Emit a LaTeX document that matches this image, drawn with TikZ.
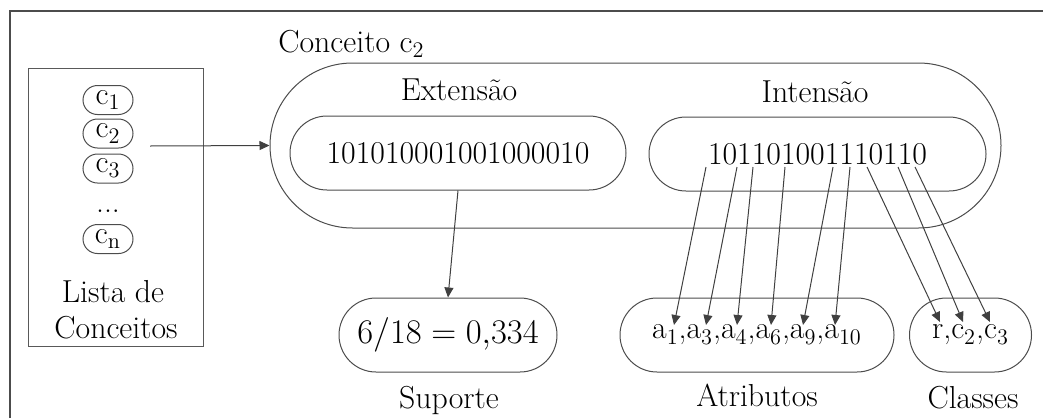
\documentclass[tikz,border=0pt]{standalone}
\usetikzlibrary{shapes.misc,arrows.meta}
\begin{document}
\begin{tikzpicture}[x=0.5pt,y=-0.5pt,
  font=\fontsize{15.9}{19}\selectfont,
  rr/.style={draw=black!70,line width=0.5pt,rounded rectangle,inner sep=0pt},
  cn/.style={rr,minimum width=25pt,minimum height=14.5pt},
  arr/.style={draw=black!75,line width=0.5pt,-{Triangle[length=5pt,width=4.5pt]}},
  lbl/.style={inner sep=0pt,anchor=base}]
\useasboundingbox (0,0) rectangle (1043,418);
% outer frame (cut by the page)
\draw[black!70,line width=0.75pt] (10,418) -- (10,11) -- (1043,11);
% list of concepts
\node[draw=black!65,line width=0.5pt,minimum width=87.5pt,minimum height=139pt,inner sep=0pt] (lista) at (115.5,207) {};
\node[cn] (c1) at (108,100) {c\textsubscript{1}};
\node[cn] (c2) at (108,133.5) {c\textsubscript{2}};
\node[cn] (c3) at (108,168.5) {c\textsubscript{3}};
\node[lbl] (dots) at (108,212) {...};
\node[cn] (cn) at (108,239) {c\textsubscript{n}};
\node[lbl] (lista1) at (113,302) {Lista de};
\node[lbl] (lista2) at (116,338) {Conceitos};
% concept
\node[lbl,anchor=base west] (conclbl) at (278,52) {Conceito c\textsubscript{2}};
\node[rr,minimum width=365.5pt,minimum height=82.5pt] (conc) at (635.5,145.5) {};
\node[lbl] (extlbl) at (459,100) {Extensão};
\node[lbl] (intlbl) at (815,102) {Intensão};
\node[rr,minimum width=168pt,minimum height=37pt] (ext) at (458,153) {101010001001000010};
\node[rr,minimum width=168.5pt,minimum height=37pt] (int) at (817.5,154) {101101001110110};
% bottom nodes
\node[rr,minimum width=109pt,minimum height=37pt] (sup) at (448,335) {$6/18 = 0{,}334$};
\node[rr,minimum width=137pt,minimum height=37pt] (atr) at (757,335) {a\textsubscript{1},a\textsubscript{3},a\textsubscript{4},a\textsubscript{6},a\textsubscript{9},a\textsubscript{10}};
\node[rr,minimum width=61pt,minimum height=37pt] (cls) at (970.5,335) {r,c\textsubscript{2},c\textsubscript{3}};
\node[lbl] (suplbl) at (449,408) {Suporte};
\node[lbl] (atrlbl) at (757,406) {Atributos};
\node[lbl] (clslbl) at (973,408) {Classes};
% connectors
\coordinate (lstart) at (150,146);
\draw[arr] (lstart) -- (conc.west);
\draw[arr] (ext.south) -- (sup.north);
\coordinate (s1) at (706,167);
\coordinate (s2) at (737,167);
\coordinate (s3) at (753,167);
\coordinate (s4) at (785,167);
\coordinate (s5) at (833,167);
\coordinate (s6) at (850,167);
\coordinate (s7) at (867,167);
\coordinate (s8) at (898,167);
\coordinate (s9) at (915,167);
\coordinate (t1) at (674,325);
\coordinate (t2) at (706,325);
\coordinate (t3) at (737,325);
\coordinate (t4) at (771,325);
\coordinate (t5) at (803,325);
\coordinate (t6) at (835,325);
\coordinate (t7) at (940,322);
\coordinate (t8) at (963,322);
\coordinate (t9) at (990,322);
\foreach \i in {1,...,9} {\draw[arr] (s\i) -- (t\i);}
\end{tikzpicture}
\end{document}
